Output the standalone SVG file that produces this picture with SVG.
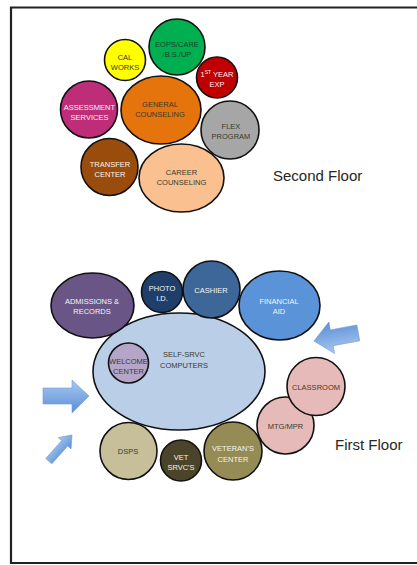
<svg xmlns="http://www.w3.org/2000/svg" width="417" height="565" viewBox="0 0 417 565">
<defs>
<linearGradient id="ag" x1="0" y1="0" x2="0" y2="1">
<stop offset="0" stop-color="#a9c8f0"/>
<stop offset="1" stop-color="#5a8ed6"/>
</linearGradient>
<style>
.n{stroke:#111;stroke-width:1.6}
.t{font-family:"Liberation Sans",Arial,sans-serif;font-size:7.5px;text-anchor:middle}
.d{fill:#3a3a2a}
.w{fill:#f4f4f4}
.fl{font-family:"Liberation Sans",Arial,sans-serif;font-size:15px;fill:#262626}
.ar{fill:url(#ag);stroke:#6f9ad6;stroke-width:0.6}
</style>
</defs>
<rect width="417" height="565" fill="#fff"/>
<path d="M418 7.5H11V563H418" fill="none" stroke="#222" stroke-width="2.2"/>

<text class="fl" x="273" y="181">Second Floor</text>
<text class="fl" x="335" y="450">First Floor</text>

<g id="cal-works"><circle class="n" cx="125" cy="60" r="20.5" fill="#ffff00"/><text class="t d" x="125" y="60">CAL</text><text class="t d" x="125" y="70">WORKS</text></g>
<g id="eops"><circle class="n" cx="177" cy="47" r="28" fill="#00b050"/><text class="t" fill="#17402a" x="177" y="47">EOPS/CARE</text><text class="t" fill="#17402a" x="177" y="57">/B.S./UP</text></g>
<g id="first-year"><circle class="n" cx="217" cy="77.5" r="20.5" fill="#c00000"/><text class="t w" x="217" y="77">1<tspan font-size="5" dy="-3">ST</tspan><tspan dy="3"> YEAR</tspan></text><text class="t w" x="217" y="87">EXP</text></g>
<g id="assessment"><circle class="n" cx="89" cy="109.5" r="28.5" fill="#be2d78"/><text class="t w" x="89.5" y="109.5">ASSESSMENT</text><text class="t w" x="89.5" y="119.5">SERVICES</text></g>
<g id="general-counseling"><ellipse class="n" cx="161" cy="110" rx="40" ry="34" fill="#e6740c"/><text class="t d" x="160" y="107">GENERAL</text><text class="t d" x="160" y="117">COUNSELING</text></g>
<g id="flex"><circle class="n" cx="230" cy="130" r="29" fill="#a6a6a6"/><text class="t d" x="231" y="129">FLEX</text><text class="t d" x="231" y="139">PROGRAM</text></g>
<g id="transfer"><circle class="n" cx="109.5" cy="167" r="28.5" fill="#9a4c0c"/><text class="t w" x="110" y="167">TRANSFER</text><text class="t w" x="110" y="177">CENTER</text></g>
<g id="career"><ellipse class="n" cx="181.5" cy="178" rx="42.5" ry="34" fill="#fac090"/><text class="t d" x="181.5" y="175">CAREER</text><text class="t d" x="181.5" y="185">COUNSELING</text></g>

<g id="self-srvc"><ellipse class="n" cx="179" cy="371.5" rx="86" ry="58.5" fill="#bacee7"/><text class="t d" x="184" y="357">SELF-SRVC</text><text class="t d" x="184" y="368">COMPUTERS</text></g>
<g id="admissions"><ellipse class="n" cx="92.5" cy="305.5" rx="41.5" ry="32.5" fill="#6a5686"/><text class="t w" x="92" y="304">ADMISSIONS &amp;</text><text class="t w" x="92" y="314">RECORDS</text></g>
<g id="photo-id"><circle class="n" cx="162" cy="292" r="20.5" fill="#1f3f6a"/><text class="t w" x="162" y="291">PHOTO</text><text class="t w" x="162" y="301">I.D.</text></g>
<g id="cashier"><circle class="n" cx="211.5" cy="289.5" r="28.5" fill="#3d6699"/><text class="t w" x="211" y="293">CASHIER</text></g>
<g id="financial-aid"><ellipse class="n" cx="279.5" cy="305.5" rx="40.5" ry="34.5" fill="#5b93d8"/><text class="t w" x="279" y="304">FINANCIAL</text><text class="t w" x="279" y="314">AID</text></g>
<g id="welcome"><circle class="n" cx="128.5" cy="363" r="20" fill="#b4a5c9"/><text class="t d" x="128.5" y="363.5">WELCOME</text><text class="t d" x="128.5" y="373.5">CENTER</text></g>
<g id="mtg-mpr"><circle class="n" cx="285.5" cy="425.5" r="28.5" fill="#e6bab9"/><text class="t d" x="285.5" y="428.5">MTG/MPR</text></g>
<g id="classroom"><circle class="n" cx="316" cy="386.5" r="29" fill="#e6bab9"/><text class="t d" x="316" y="390">CLASSROOM</text></g>
<g id="dsps"><circle class="n" cx="128.5" cy="451" r="28.5" fill="#c6bf99"/><text class="t d" x="128" y="454">DSPS</text></g>
<g id="vet-srvcs"><circle class="n" cx="181" cy="460.5" r="20.5" fill="#4a452a"/><text class="t w" x="181" y="459.5">VET</text><text class="t w" x="181" y="469.5">SRVC'S</text></g>
<g id="veterans-center"><circle class="n" cx="233" cy="451" r="29" fill="#958b55"/><text class="t w" x="233" y="451">VETERAN'S</text><text class="t w" x="233" y="461.5">CENTER</text></g>

<g id="arrows">
<polygon class="ar" points="-45,-8 -18,-8 -18,-16 0,0 -18,16 -18,8 -45,8" transform="translate(314,341) rotate(169.7)"/>
<polygon class="ar" points="43,388 72,388 72,380 89,396 72,413 72,404 43,404"/>
<polygon class="ar" points="-35,-4 -11,-4 -11,-8.5 0,0 -11,8.5 -11,4 -35,4" transform="translate(72,435) rotate(-48.5)"/>
</g>
</svg>
